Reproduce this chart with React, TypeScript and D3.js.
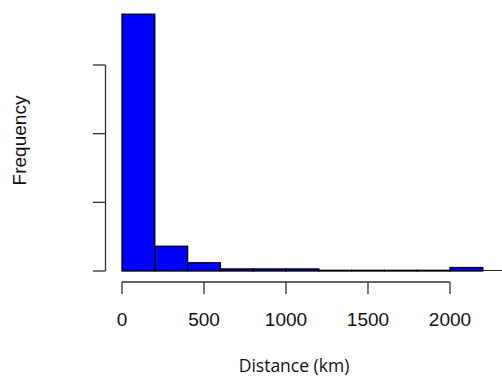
import React, { useRef, useEffect } from 'react';
import * as d3 from 'd3';

// histogram bins (km) and counts
const binEdges = [0, 200, 400, 600, 800, 1000, 1200, 1400, 1600, 1800, 2000, 2200];
const counts = [374, 36, 12, 3, 3, 3, 1, 1, 1, 1, 5];
const xTicks = [0, 500, 1000, 1500, 2000];
const yTicks = [0, 100, 200, 300];

const W = 502;
const H = 377;

const drawHist = (el: SVGSVGElement) => {
	const svg = d3.select(el);
	svg.selectAll('*').remove();

	const x = d3.scaleLinear().domain([0, 2000]).range([122, 450]);
	const y = d3.scaleLinear().domain([0, 300]).range([271, 65]);

	const bins = counts.map((c, i) => ({ x0: binEdges[i], x1: binEdges[i + 1], c }));

	// baseline
	svg.append('line')
		.attr('x1', x(0)).attr('x2', W)
		.attr('y1', 270.5).attr('y2', 270.5)
		.attr('stroke', '#222').attr('stroke-width', 1);

	svg.append('g')
		.selectAll('rect')
		.data(bins)
		.join('rect')
		.attr('x', (d) => x(d.x0))
		.attr('width', (d) => x(d.x1) - x(d.x0))
		.attr('y', (d) => y(d.c))
		.attr('height', (d) => y(0) - y(d.c))
		.attr('fill', '#0000ff')
		.attr('stroke', '#000')
		.attr('stroke-width', 1.3);

	const ax = '#333';

	// y axis, no labels
	const gy = svg.append('g');
	gy.append('line')
		.attr('x1', 105.5).attr('x2', 105.5)
		.attr('y1', y(0)).attr('y2', y(300))
		.attr('stroke', ax).attr('stroke-width', 1.3);
	gy.selectAll('line.t')
		.data(yTicks)
		.join('line')
		.attr('class', 't')
		.attr('x1', 93).attr('x2', 105.5)
		.attr('y1', (d) => y(d)).attr('y2', (d) => y(d))
		.attr('stroke', ax).attr('stroke-width', 1.3);

	// x axis
	const gx = svg.append('g');
	gx.append('line')
		.attr('x1', x(0)).attr('x2', x(2000))
		.attr('y1', 282).attr('y2', 282)
		.attr('stroke', ax).attr('stroke-width', 1.3);
	gx.selectAll('line.t')
		.data(xTicks)
		.join('line')
		.attr('class', 't')
		.attr('x1', (d) => x(d)).attr('x2', (d) => x(d))
		.attr('y1', 282).attr('y2', 294)
		.attr('stroke', ax).attr('stroke-width', 1.3);
	gx.selectAll('text')
		.data(xTicks)
		.join('text')
		.attr('x', (d) => x(d))
		.attr('y', 326)
		.attr('text-anchor', 'middle')
		.attr('font-family', 'Liberation Sans, Arial, sans-serif')
		.attr('font-size', 19)
		.attr('fill', '#111')
		.text((d) => d);

	svg.append('text')
		.attr('x', 294)
		.attr('y', 372)
		.attr('text-anchor', 'middle')
		.attr('font-family', 'Open Sans, sans-serif')
		.attr('font-size', 17.5)
		.attr('fill', '#111')
		.text('Distance (km)');

	svg.append('text')
		.attr('transform', 'translate(26,140.5) rotate(-90)')
		.attr('text-anchor', 'middle')
		.attr('font-family', 'Liberation Sans, Arial, sans-serif')
		.attr('font-size', 19)
		.attr('fill', '#111')
		.text('Frequency');
};

const App = () => {
	const ref = useRef<SVGSVGElement>(null);

	useEffect(() => {
		if (ref.current) drawHist(ref.current);
	}, []);

	return (
		<div style={{ position: 'absolute', left: 0, top: 0 }}>
			<svg ref={ref} width={W} height={H} style={{ display: 'block', background: '#fff' }} />
		</div>
	);
};

export default App;
